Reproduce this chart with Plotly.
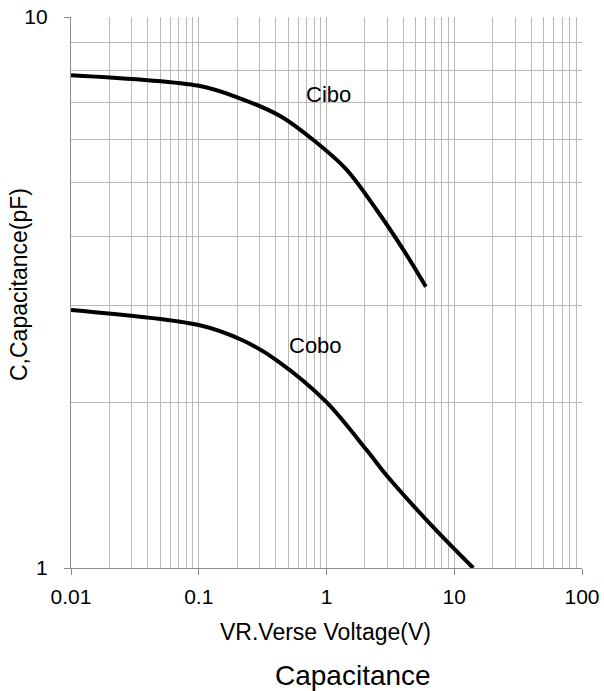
import math
import plotly.graph_objects as go

# Reverse-voltage sweep (V) and measured capacitance (pF)
cibo_v = [0.01, 0.1, 0.2, 0.44, 0.79, 1.44, 2.48, 4.0, 6.0]
cibo_c = [7.84, 7.5, 7.15, 6.6, 5.98, 5.28, 4.46, 3.78, 3.24]

cobo_v = [0.01, 0.1, 0.22, 0.41, 1.0, 2.07, 2.97, 6.87, 14.1]
cobo_c = [2.94, 2.76, 2.59, 2.38, 2.0, 1.635, 1.47, 1.185, 1.0]

x_ticks = [0.01, 0.1, 1, 10, 100]
x_tick_text = ["0.01", "0.1", "1", "10", "100"]
y_ticks = [1, 10]
y_tick_text = ["1", "10"]

x_minor = [m * d for d in (0.01, 0.1, 1, 10) for m in range(2, 10)]
y_minor = list(range(2, 10))

GRID = "#b9b9b9"
AXIS = "#8c8c8c"
FONT = "Liberation Sans, Arial, sans-serif"

fig = go.Figure()
for name, xs, ys in (("Cibo", cibo_v, cibo_c), ("Cobo", cobo_v, cobo_c)):
    fig.add_trace(go.Scatter(x=xs, y=ys, mode="lines", name=name,
                             line=dict(color="black", width=4, shape="spline", smoothing=0.9),
                             hoverinfo="skip"))

fig.update_xaxes(type="log", range=[-2, 2], tickvals=x_ticks, ticktext=x_tick_text,
                 showgrid=True, gridcolor=GRID, gridwidth=1.2,
                 minor=dict(tickvals=x_minor, showgrid=True, gridcolor=GRID, gridwidth=1.2,
                            ticks=""),
                 showline=True, linecolor=AXIS, linewidth=1.2,
                 ticks="outside", ticklen=6, tickcolor=AXIS,
                 ticklabelstandoff=4, automargin=False,
                 tickfont=dict(family=FONT, size=21, color="black"),
                 zeroline=False)
fig.update_yaxes(type="log", range=[0, 1], tickvals=y_ticks, ticktext=y_tick_text,
                 showgrid=True, gridcolor=GRID, gridwidth=1.2,
                 minor=dict(tickvals=y_minor, showgrid=True, gridcolor=GRID, gridwidth=1.2,
                            ticks=""),
                 showline=True, linecolor=AXIS, linewidth=1.2,
                 ticks="outside", ticklen=6, tickcolor=AXIS,
                 ticklabelstandoff=12, automargin=False,
                 tickfont=dict(family=FONT, size=21, color="black"),
                 zeroline=False)

W, H = 604, 691
L, R, T, B = 71, 22, 17, 123
pw, ph = W - L - R, H - T - B


def px_x(p):
    return (p - L) / pw


def px_y(p):
    return (H - B - p) / ph


def label(x, y, text, size, xref="paper", yref="paper", angle=0):
    return dict(x=x, y=y, xref=xref, yref=yref, text=text, showarrow=False,
                xanchor="center", yanchor="middle", textangle=angle,
                font=dict(family=FONT, size=size, color="black"))


annotations = [
    label(math.log10(1.03), 0.8587, "Cibo", 22, "x", "y"),
    label(-0.0853, 0.4042, "Cobo", 22, "x", "y"),
    label(px_x(325.5), px_y(632), "VR.Verse Voltage(V)", 23),
    label(px_x(353), px_y(675), "Capacitance", 28),
    label(px_x(19), px_y(285), "C,Capacitance(pF)", 23, angle=-90),
]

fig.update_layout(width=W, height=H, margin=dict(l=L, r=R, t=T, b=B, pad=0),
                  plot_bgcolor="white", paper_bgcolor="white",
                  showlegend=False, annotations=annotations)

fig.write_html("out.html")
